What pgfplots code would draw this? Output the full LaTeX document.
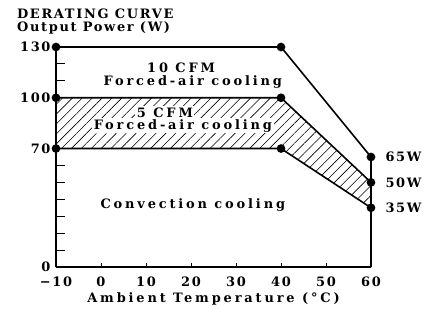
\documentclass[border=0pt]{standalone}
\usepackage{fontspec}
\setmainfont{DejaVu Serif}[LetterSpace=22]
\newfontfamily\titlefont{DejaVu Serif}[LetterSpace=13]
\newcommand\tfont{\titlefont\bfseries\fontsize{13}{15}\selectfont}
\usepackage{pgfplots}
\pgfplotsset{compat=1.18}
\usetikzlibrary{patterns.meta}
\begin{document}
\begin{tikzpicture}
\begin{axis}[
  at={(0,0)}, anchor=south west,
  scale only axis, width=315bp, height=220bp,
  xmin=-10, xmax=60, ymin=0, ymax=130,
  clip=false,
  axis x line=bottom, axis y line=left,
  axis line style={-, line width=1.6bp},
  tick align=inside,
  major tick length=4bp, minor tick length=9bp,
  tick style={black, line width=0.9bp},
  xtick={-10,0,10,20,30,40,50,60},
  xticklabels={−10,0,10,20,30,40,50,60},
  ytick={0,70,100,130},
  yticklabels={0,70,100,130},
  minor ytick={10,20,30,40,50,60,110,120},
  font=\bfseries\fontsize{13}{15}\selectfont,
  tick label style={font=\tfont},
  xticklabel style={yshift=-6bp},
  yticklabel style={xshift=-2bp},
  xlabel={Ambient Temperature (°C)},
  xlabel style={yshift=0bp},
]
\addplot[draw=none, pattern={Lines[angle=45,distance=7bp,line width=0.6bp]}]
  coordinates {(-10,100) (40,100) (60,50) (60,35) (40,70) (-10,70)} -- cycle;
\addplot[black, line width=1.6bp, mark=*, mark size=3.5bp, mark indices={1,2,3}]
  coordinates {(-10,130) (40,130) (60,65) (60,0)};
\addplot[black, line width=1.6bp, mark=*, mark size=3.5bp]
  coordinates {(-10,100) (40,100) (60,50)};
\addplot[black, line width=1.6bp, mark=*, mark size=3.5bp]
  coordinates {(-10,70) (40,70) (60,35)};
\node[anchor=base] at (axis cs:17.8,115.2) {10 CFM};
\node[anchor=base] at (axis cs:20.4,107.5) {Forced-air cooling};
\node[anchor=base, fill=white, inner sep=1.5bp] at (axis cs:14.2,88.6) {5 CFM};
\node[anchor=base, fill=white, inner sep=1.5bp] at (axis cs:18.2,81.5) {Forced-air cooling};
\node[anchor=base] at (axis cs:20.4,34.3) {Convection cooling};
\node[anchor=west, xshift=11bp, font=\tfont] at (axis cs:60,65) {65W};
\node[anchor=west, xshift=11bp, font=\tfont] at (axis cs:60,50) {50W};
\node[anchor=west, xshift=11bp, font=\tfont] at (axis cs:60,35) {35W};
\node[anchor=base west, inner sep=0pt, font=\tfont] at (axis cs:-18.7,147) {DERATING CURVE};
\node[anchor=base west, inner sep=0pt, font=\tfont] at (axis cs:-18.7,138.9) {Output Power (W)};
\end{axis}
\pgfresetboundingbox
\path (-56bp,-42bp) rectangle (373bp,267bp);
\end{tikzpicture}
\end{document}
